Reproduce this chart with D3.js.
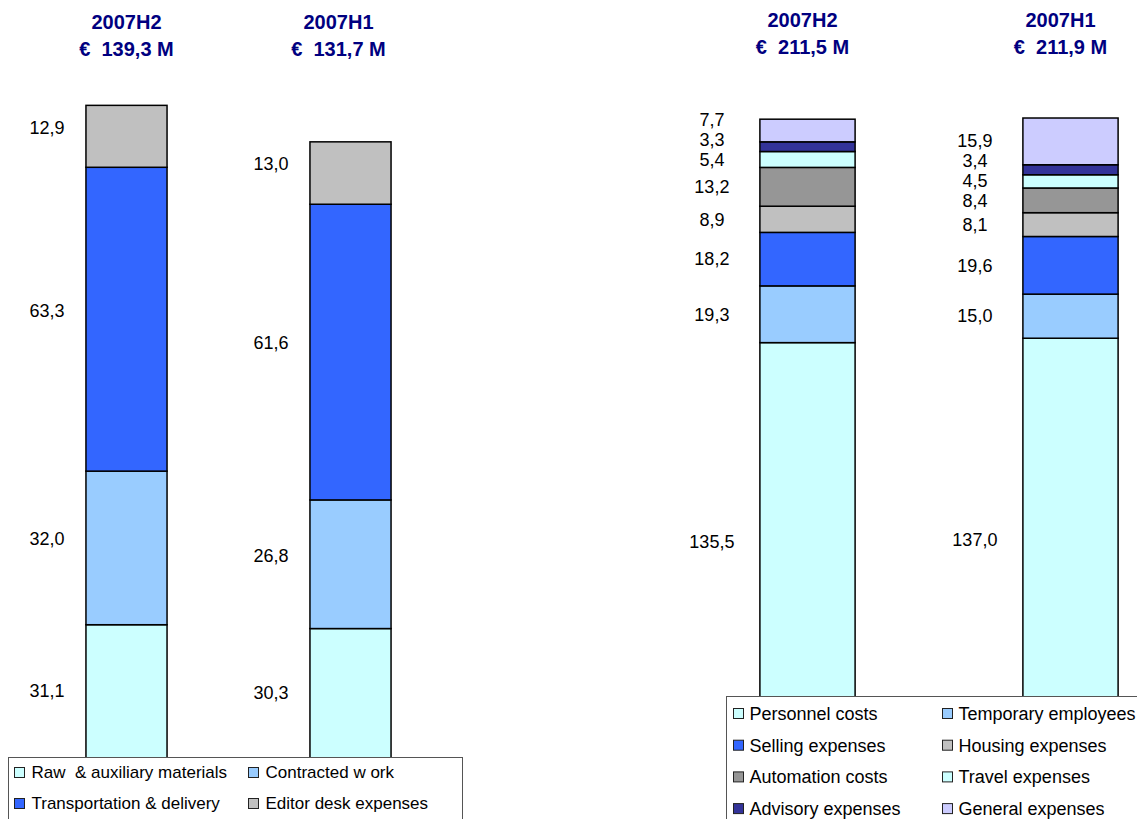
<!DOCTYPE html>
<html>
<head>
<meta charset="utf-8">
<script src="https://cdn.jsdelivr.net/npm/d3@7"></script>
<style>
  body { margin: 0; background: #fff; }
  text { font-family: "Liberation Sans", Arial, sans-serif; white-space: pre; }
</style>
</head>
<body>
<div id="chart"></div>
<script>
var w = 1137;
var h = 819;

// Periods shown in both panels
var periods = ["2007H2", "2007H1"];

// Left panel: material costs (bottom to top)
var leftCategories = ["Raw  & auxiliary materials", "Contracted w ork", "Transportation & delivery", "Editor desk expenses"];
var leftH2 = [31.1, 32.0, 63.3, 12.9];
var leftH1 = [30.3, 26.8, 61.6, 13.0];
var leftColors = ["#ccffff", "#99ccff", "#3366ff", "#c0c0c0"];

// Right panel: operating costs (bottom to top)
var rightCategories = ["Personnel costs", "Temporary employees", "Selling expenses", "Housing expenses",
  "Automation costs", "Travel expenses", "Advisory expenses", "General expenses"];
var rightH2 = [135.5, 19.3, 18.2, 8.9, 13.2, 5.4, 3.3, 7.7];
var rightH1 = [137.0, 15.0, 19.6, 8.1, 8.4, 4.5, 3.4, 15.9];
var rightColors = ["#ccffff", "#99ccff", "#3366ff", "#c0c0c0", "#969696", "#ccffff", "#333399", "#ccccff"];

var fmt = function (v) { return v.toFixed(1).replace(".", ","); };

var svg = d3.select("#chart")
  .append("svg")
  .attr("width", w)
  .attr("height", h);

function drawPanel(cfg) {
  var series = [cfg.h2, cfg.h1];

  var x = d3.scaleBand()
    .domain(periods)
    .range(cfg.xRange)
    .paddingInner(0.638)
    .paddingOuter(0.319);

  var y = d3.scaleLinear()
    .domain([0, cfg.yMax])
    .range([cfg.base, cfg.base - cfg.yMax * cfg.pxPerUnit]);

  var g = svg.append("g");

  periods.forEach(function (p, pi) {
    var vals = series[pi];
    var cum = 0;
    var segs = vals.map(function (v, i) {
      var s = { v: v, y0: cum, y1: cum + v, i: i };
      cum += v;
      return s;
    });

    // titles
    var cx = x(p) + x.bandwidth() / 2 + cfg.titleShift[pi];
    g.append("text")
      .attr("x", cx).attr("y", cfg.titleY)
      .attr("text-anchor", "middle")
      .attr("font-size", "20px").attr("font-weight", "bold")
      .attr("fill", "#000080")
      .text(p);
    g.append("text")
      .attr("x", cx).attr("y", cfg.titleY + 27)
      .attr("text-anchor", "middle")
      .attr("font-size", "20px").attr("font-weight", "bold")
      .attr("fill", "#000080")
      .text("€  " + fmt(d3.sum(vals)) + " M");

    g.selectAll(".seg" + pi)
      .data(segs)
      .enter()
      .append("rect")
      .attr("x", x(p))
      .attr("width", x.bandwidth())
      .attr("y", function (d) { return y(d.y1); })
      .attr("height", function (d) { return y(d.y0) - y(d.y1); })
      .attr("fill", function (d) { return cfg.colors[d.i]; })
      .attr("stroke", "black")
      .attr("stroke-width", 1.5);

    // label positions: segment middle, pushed up when crowded
    var prev = Infinity;
    segs.forEach(function (d) {
      var ly = (y(d.y0) + y(d.y1)) / 2 + cfg.labelDy;
      ly = Math.min(ly, prev - cfg.minGap);
      d.ly = ly;
      prev = ly;
    });

    g.selectAll(".lab" + pi)
      .data(segs)
      .enter()
      .append("text")
      .attr("x", x(p) - cfg.labelGap)
      .attr("y", function (d) { return d.ly; })
      .attr("dy", "0.35em")
      .attr("text-anchor", "middle")
      .attr("font-size", "18px")
      .attr("fill", "#000")
      .text(function (d) { return fmt(d.v); });
  });

  // legend
  var lg = svg.append("g");
  lg.append("rect")
    .attr("x", cfg.legend.x).attr("y", cfg.legend.y)
    .attr("width", cfg.legend.w).attr("height", h)
    .attr("fill", "#fff")
    .attr("stroke", "#555")
    .attr("stroke-width", 1);

  var items = lg.selectAll(".legend-item")
    .data(cfg.categories)
    .enter()
    .append("g")
    .attr("transform", function (d, i) {
      var col = i % 2, row = Math.floor(i / 2);
      return "translate(" + (cfg.legend.x + cfg.legend.cols[col]) + "," + (cfg.legend.y + cfg.legend.row0 + row * cfg.legend.rowH) + ")";
    });

  items.append("rect")
    .attr("x", 0).attr("y", -5)
    .attr("width", 10).attr("height", 10)
    .attr("fill", function (d, i) { return cfg.colors[i]; })
    .attr("stroke", "#222")
    .attr("stroke-width", 1);

  items.append("text")
    .attr("x", cfg.legend.textDx)
    .attr("y", 0)
    .attr("dy", "0.35em")
    .attr("font-size", cfg.legend.fontSize)
    .attr("fill", "#000")
    .text(function (d) { return d; });
}

drawPanel({
  h2: leftH2, h1: leftH1, colors: leftColors, categories: leftCategories,
  xRange: [14.5, 462.5], yMax: 150, base: 774, pxPerUnit: 4.8,
  titleY: 29, titleShift: [0, -12],
  labelDy: -9, minGap: 0, labelGap: 39,
  legend: { x: 8.5, y: 757.5, w: 454, cols: [6, 240], textDx: 17, row0: 15, rowH: 31, fontSize: "17px" }
});

drawPanel({
  h2: rightH2, h1: rightH1, colors: rightColors, categories: rightCategories,
  xRange: [676, 1202], yMax: 220, base: 741, pxPerUnit: 2.94,
  titleY: 27, titleShift: [-5, -10],
  labelDy: 0, minGap: 20, labelGap: 48,
  legend: { x: 726.5, y: 696.5, w: 430, cols: [7, 216], textDx: 16, row0: 17, rowH: 31.7, fontSize: "18px" }
});
</script>
</body>
</html>
